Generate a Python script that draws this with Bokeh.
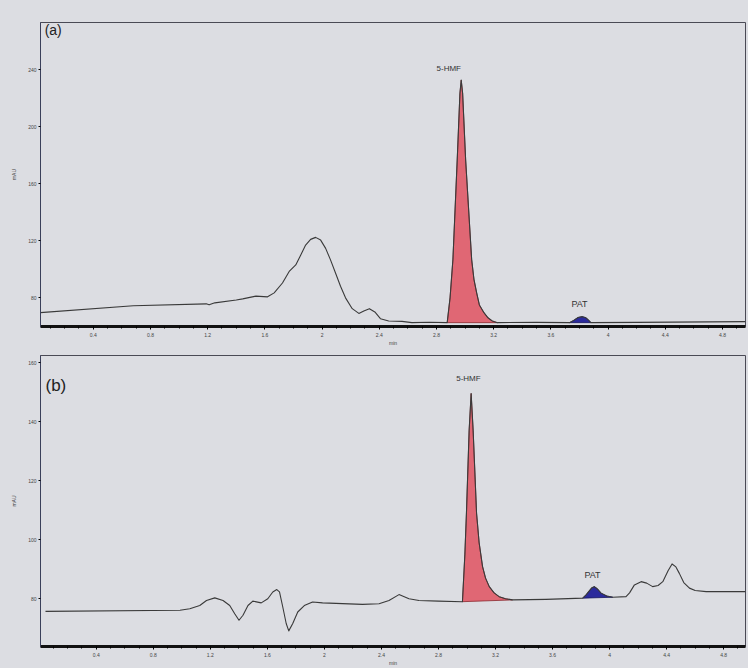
from bokeh.plotting import figure
from bokeh.layouts import column
from bokeh.models import FixedTicker, Range1d
from bokeh.core.properties import value
from bokeh.embed import file_html
from bokeh.resources import INLINE

# ---------------- data ----------------
x_ticks = [0.4, 0.8, 1.2, 1.6, 2, 2.4, 2.8, 3.2, 3.6, 4, 4.4, 4.8]
x_tick_labels = ["0.4", "0.8", "1.2", "1.6", "2", "2.4", "2.8", "3.2", "3.6", "4", "4.4", "4.8"]
y_ticks_a = [80, 120, 160, 200, 240]
y_ticks_b = [80, 100, 120, 140, 160]

# chromatogram (a): retention time (min) and signal
t_a = [0.03, 0.68, 1.19, 1.21, 1.25, 1.40, 1.445, 1.537, 1.619, 1.665, 1.723, 1.770, 1.816,
       1.851, 1.885, 1.920, 1.955, 1.990, 2.025, 2.059, 2.094, 2.129, 2.164, 2.211, 2.257,
       2.292, 2.331, 2.369, 2.408, 2.466, 2.559, 2.628, 2.75,
       2.875, 2.895, 2.915, 2.945, 2.964, 2.973, 2.983, 3.004, 3.046, 3.062, 3.081, 3.10,
       3.132, 3.16, 3.19, 3.226, 3.50,
       3.73, 3.76, 3.79, 3.82, 3.845, 3.86, 3.88, 4.20, 4.96]
v_a = [69.6, 74.4, 75.8, 75.1, 76.5, 78.5, 79.3, 81.2, 80.7, 83.5, 90.4, 98.5, 103.1,
       110.1, 117.0, 121.0, 122.4, 120.5, 114.7, 106.6, 97.4, 88.1, 80.0, 72.4, 69.1,
       70.8, 72.4, 70.1, 65.4, 63.8, 63.5, 62.6, 62.9,
       62.6, 80.0, 106.9, 176.7, 223.3, 232.7, 223.3, 176.7, 106.9, 93.0, 83.5, 75.0,
       69.6, 66.0, 63.8, 62.6, 62.8,
       62.6, 64.2, 66.2, 66.8, 66.0, 64.7, 62.6, 62.8, 63.3]
hmf_a = (2.875, 3.226)
pat_a = (3.73, 3.88)

# chromatogram (b)
t_b = [0.044, 0.987, 1.056, 1.126, 1.173, 1.231, 1.289, 1.336, 1.371, 1.401, 1.429, 1.464,
       1.498, 1.557, 1.603, 1.638, 1.666, 1.685, 1.708, 1.732, 1.750, 1.778, 1.813, 1.859,
       1.917, 1.987, 2.267, 2.383, 2.453, 2.523, 2.593, 2.663, 2.80,
       2.968, 2.985, 2.996, 3.015, 3.029, 3.043, 3.067, 3.085, 3.109, 3.13, 3.156, 3.19,
       3.225, 3.27, 3.319, 3.554,
       3.811, 3.835, 3.853, 3.875, 3.893, 3.915, 3.94, 3.98, 4.022,
       4.115, 4.14, 4.174, 4.221, 4.26, 4.302, 4.34, 4.373, 4.41, 4.438, 4.465, 4.489,
       4.52, 4.56, 4.60, 4.677, 4.953]
v_b = [75.7, 76.1, 76.6, 77.7, 79.4, 80.3, 79.4, 77.7, 74.9, 72.7, 74.4, 77.7,
       79.2, 78.6, 80.0, 82.3, 83.1, 82.3, 77.2, 71.6, 69.1, 71.6, 75.5, 77.7,
       78.9, 78.6, 78.1, 78.3, 79.4, 81.4, 80.0, 79.4, 79.2,
       79.0, 95.0, 109.0, 137.1, 149.6, 137.1, 109.0, 99.0, 90.9, 87.0, 84.1, 82.0,
       80.7, 80.0, 79.6, 79.8,
       80.2, 81.3, 82.4, 83.7, 84.1, 83.3, 81.9, 80.9, 80.5,
       80.7, 82.0, 84.7, 85.8, 85.3, 84.1, 84.5, 85.8, 89.5, 91.8, 90.8, 88.6,
       85.5, 83.6, 82.8, 82.4, 82.4]
hmf_b = (2.968, 3.319)
pat_b = (3.811, 4.022)

BG = "#dcdde2"


def window(t, v, lo, hi):
    xs = [a for a in t if lo <= a <= hi]
    ys = [b for a, b in zip(t, v) if lo <= a <= hi]
    return xs, ys


def make_panel(t, v, hmf, pat, xr, yr, yticks, h, borders, tag, tag_pos, tag_size,
               hmf_pos, pat_pos):
    p = figure(width=748, height=h, output_backend="svg", toolbar_location=None,
               x_range=Range1d(*xr), y_range=Range1d(*yr),
               min_border_left=borders[0], min_border_right=borders[1],
               min_border_top=borders[2], min_border_bottom=borders[3])
    p.background_fill_color = BG
    p.border_fill_color = BG
    p.outline_line_color = "#4a4a55"
    p.outline_line_width = 1
    p.xgrid.visible = False
    p.ygrid.visible = False

    # peak fills
    hx, hy = window(t, v, *hmf)
    p.patch(hx, hy, fill_color="#e05a68", fill_alpha=0.9, line_color="#8a2a30", line_width=0.8)
    px, py = window(t, v, *pat)
    p.patch(px, py, fill_color="#2b2a9c", line_color="#1a1a60", line_width=0.8)
    # trace
    p.line(t, v, line_color="#3a3a3a", line_width=1.1, line_join="round")

    # labels
    p.text([hmf_pos[0]], [hmf_pos[1]], text=["5-HMF"], text_font=value("Liberation Sans"),
           text_font_size="8px", text_align="center", text_baseline="middle",
           text_color="#333333")
    p.text([pat_pos[0]], [pat_pos[1]], text=["PAT"], text_font=value("Liberation Sans"),
           text_font_size="9px", text_align="center", text_baseline="middle",
           text_color="#333333")
    p.text([tag_pos[0]], [tag_pos[1]], text=[tag], text_font=value("Liberation Sans"),
           text_font_size=tag_size, text_align="left", text_baseline="middle",
           text_color="#222222")

    xa = p.xaxis[0]
    xa.ticker = FixedTicker(ticks=x_ticks,
                            minor_ticks=[round(0.1 * i, 1) for i in range(0, 50)])
    xa.major_label_overrides = {tk: lb for tk, lb in zip(x_ticks, x_tick_labels)}
    xa.axis_line_width = 3
    xa.axis_line_color = "#111111"
    xa.major_tick_out = 3
    xa.major_tick_in = 0
    xa.minor_tick_out = 2
    xa.minor_tick_in = 0
    xa.major_label_text_font_size = "5px"
    xa.major_label_standoff = 3
    xa.axis_label = "min"
    xa.axis_label_text_font_size = "5px"
    xa.axis_label_text_font_style = "normal"
    xa.axis_label_standoff = 0
    xa.major_label_text_color = "#444444"

    ya = p.yaxis[0]
    ya.ticker = FixedTicker(ticks=yticks, minor_ticks=[])
    ya.axis_line_color = "#3a3f5a"
    ya.axis_line_width = 1
    ya.major_tick_out = 2
    ya.major_tick_in = 0
    ya.major_label_text_font_size = "5px"
    ya.major_label_standoff = 2
    ya.axis_label = "mAU"
    ya.axis_label_text_font_size = "5px"
    ya.axis_label_text_font_style = "normal"
    ya.axis_label_standoff = 8
    ya.major_label_text_color = "#444444"
    return p


pa = make_panel(t_a, v_a, hmf_a, pat_a, (0.031, 4.961), (59.9, 273.1), y_ticks_a, 348,
                (37, 3, 22, 19), "(a)", (0.06, 267.5), "14px", (2.886, 241), (3.80, 75.5))
pb = make_panel(t_b, v_b, hmf_b, pat_b, (0.009, 4.953), (63.8, 162.5), y_ticks_b, 320,
                (40, 0, 7, 20), "(b)", (0.044, 152.4), "17px", (3.01, 154.7), (3.88, 88.0))

layout = column(pa, pb, spacing=0, styles={"background-color": BG})
html = file_html(layout, INLINE)
html = html.replace("<body>", '<body style="background-color:%s;">' % BG, 1)
open("out.html", "w").write(html)
